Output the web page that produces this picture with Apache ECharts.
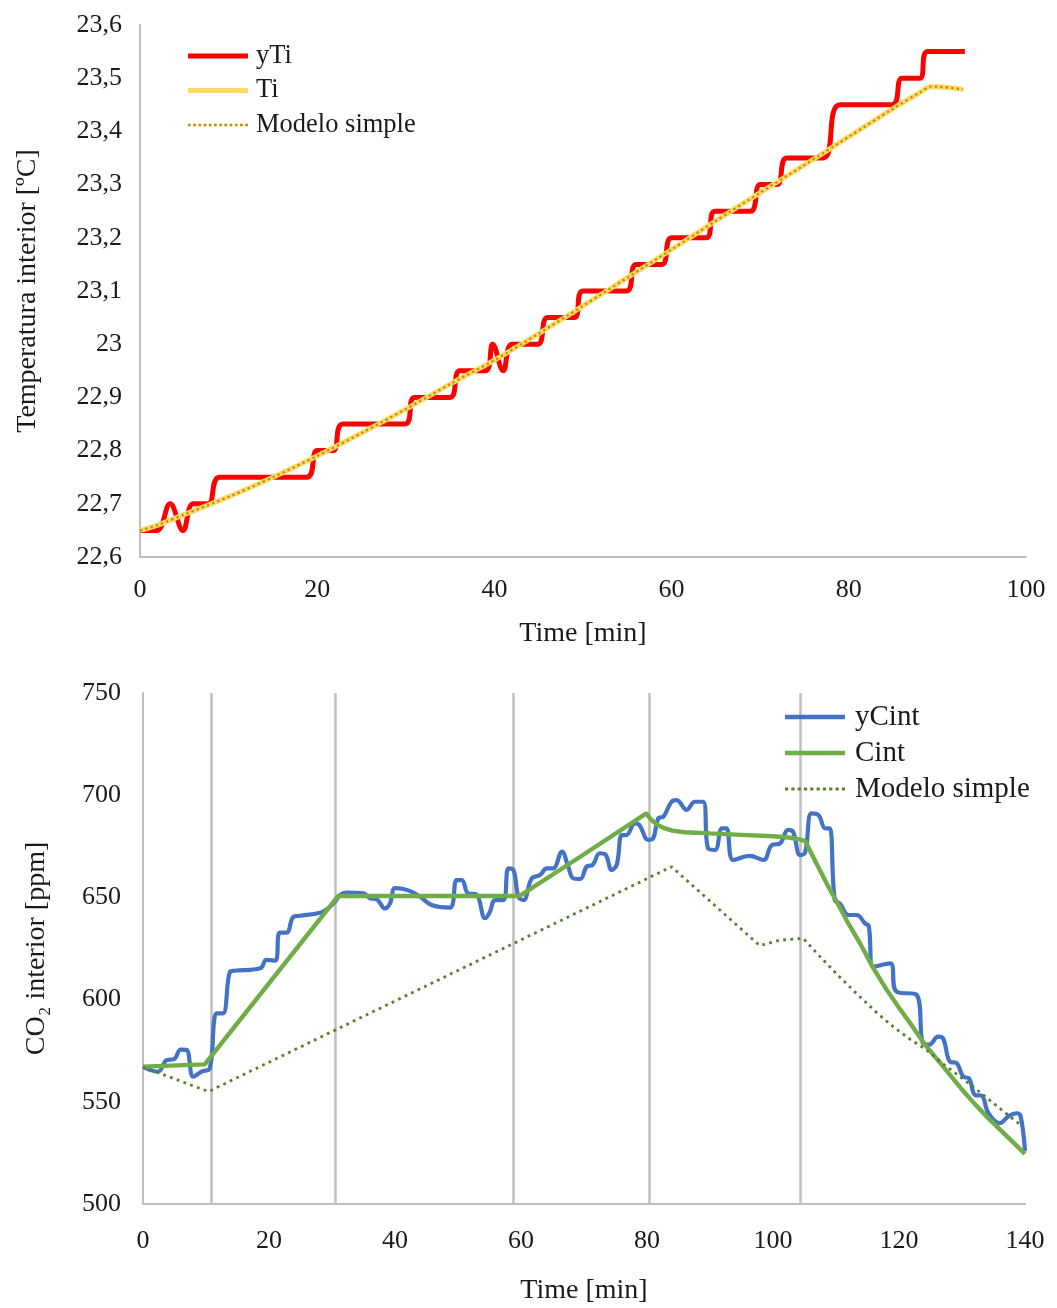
<!DOCTYPE html>
<html>
<head>
<meta charset="utf-8">
<script src="https://cdn.jsdelivr.net/npm/echarts@6/dist/echarts.min.js"></script>
<style>
  html, body { margin: 0; padding: 0; background: #ffffff; }
  #chart { width: 1057px; height: 1308px; }
</style>
</head>
<body>
<div id="chart"></div>
<script>
// ---- Interior temperature test (upper panel) ----
const yTiTime  = [0, 1.9, 3.4, 4.85, 6.0, 7.7, 9.0, 18.8, 20.0, 21.8, 22.9, 29.9, 31.0, 35.0, 36.1, 39.0, 39.8, 41.0, 42.0, 44.9,
                  46.0, 49.0, 50.0, 54.9, 56.0, 58.9, 60.0, 63.9, 64.9, 68.9, 70.0, 71.9, 73.0, 77.1, 79.0, 84.9, 86.0, 88.0, 88.9, 93.1];
const yTiValue = [22.65, 22.65, 22.70, 22.65, 22.70, 22.70, 22.75, 22.75, 22.80, 22.80, 22.85, 22.85, 22.90, 22.90, 22.95, 22.95, 23.00, 22.95, 23.00, 23.00,
                  23.05, 23.05, 23.10, 23.10, 23.15, 23.15, 23.20, 23.20, 23.25, 23.25, 23.30, 23.30, 23.35, 23.35, 23.45, 23.45, 23.50, 23.50, 23.55, 23.55];

const tiTime  = [0, 2, 5, 10, 15, 20, 25, 30, 35, 40, 45, 50, 55, 60, 65, 70, 75, 80, 85, 88.2, 89.2, 89.9, 92.9];
const tiValue = [22.650, 22.660, 22.680, 22.713, 22.750, 22.790, 22.833, 22.878, 22.925, 22.970, 23.020, 23.072, 23.125,
                 23.178, 23.232, 23.285, 23.337, 23.390, 23.443, 23.475, 23.484, 23.484, 23.479];

const modeloTTime  = [0, 2, 5, 10, 15, 20, 25, 30, 35, 40, 45, 50, 55, 60, 65, 70, 75, 80, 85, 88.2, 89.2, 89.9, 92.9];
const modeloTValue = [22.650, 22.660, 22.680, 22.713, 22.750, 22.790, 22.833, 22.878, 22.925, 22.970, 23.020, 23.072, 23.125,
                      23.178, 23.232, 23.285, 23.337, 23.390, 23.443, 23.475, 23.484, 23.484, 23.479];

const tempXLabels = ['0', '20', '40', '60', '80', '100'];
const tempYLabels = ['22,6', '22,7', '22,8', '22,9', '23', '23,1', '23,2', '23,3', '23,4', '23,5', '23,6'];

// ---- Interior CO2 test (lower panel) ----
const yCintTime  = [0, 1.2, 2.4, 3.8, 4.9, 6.0, 6.9, 8.0, 9.3, 10.6, 11.3, 11.7, 12.7, 13.8, 14.5, 18.6, 19.6, 21.0, 21.7, 22.8,
                    23.9, 24.9, 28.1, 29.2, 30.5, 31.3, 32.3, 35.0, 36.0, 37.1, 38.4, 39.2, 40.0, 41.3, 42.6, 44.0, 45.8, 48.7, 49.8, 50.6,
                    51.6, 52.9, 54.3, 55.0, 55.9, 57.2, 58.0, 58.8, 59.6, 60.4, 61.7, 63.0, 64.1, 65.1, 66.5, 67.5, 68.3, 69.4, 70.4, 71.4,
                    72.5, 73.4, 74.4, 75.2, 76.0, 76.7, 78.1, 78.8, 80.2, 81.0, 81.8, 82.6, 83.9, 84.7, 86.3, 87.6, 88.9, 89.7, 90.8, 91.9,
                    92.6, 93.7, 96.3, 98.5, 99.8, 101.1, 102.4, 103.2, 104.3, 105.1, 106.1, 107.2, 108.3, 109.0, 109.8, 110.6, 112.0, 113.3, 114.6, 115.2,
                    115.9, 118.6, 119.6, 122.8, 123.8, 124.8, 126.2, 127.0, 128.1, 129.1, 130.2, 131.1, 132.1, 133.1, 134.2, 136.0, 137.4, 138.7, 139.3, 140.0];
const yCintValue = [567.2, 565.5, 564.7, 570.5, 570.8, 575.5, 575.4, 562.3, 564.8, 566.4, 590.0, 593.3, 593.3, 613.6, 614.1, 615.3, 619.4, 619.1, 632.8, 632.8,
                    640.6, 641.0, 642.5, 644.2, 647.9, 651.2, 652.3, 652.0, 649.6, 649.1, 644.6, 647.0, 654.5, 654.1, 652.8, 650.3, 646.3, 645.0, 658.5, 658.5,
                    652.0, 651.5, 639.8, 642.5, 648.7, 648.7, 664.2, 663.4, 650.3, 648.7, 659.3, 660.9, 664.2, 664.2, 672.4, 665.0, 659.3, 659.0, 665.0, 666.0,
                    671.6, 671.0, 663.4, 666.0, 680.5, 680.5, 686.2, 685.4, 678.1, 679.0, 688.7, 689.5, 696.8, 697.6, 692.8, 696.8, 696.8, 674.0, 673.2, 683.8,
                    683.8, 668.3, 670.3, 668.3, 675.6, 676.4, 683.0, 682.0, 670.7, 672.0, 691.1, 690.3, 683.8, 683.8, 648.7, 647.0, 641.4, 641.4, 637.3, 636.0,
                    616.1, 617.7, 603.9, 602.3, 578.6, 578.0, 581.9, 581.0, 569.6, 569.0, 562.3, 561.5, 553.3, 553.0, 544.4, 539.5, 543.0, 544.4, 543.0, 526.0];

const cintTime  = [0, 9.8, 31.0, 59.8, 69.4, 79.9, 80.5, 81.5, 82.6, 84.0, 86.0, 90.0, 95.0, 100.0, 102.5, 104.0, 105.1,
                   107, 109, 110.1, 112, 114, 116, 118, 120, 122, 124, 126, 128, 130, 132, 134, 136, 138, 140];
const cintValue = [567.2, 568.3, 650.7, 650.7, 669.9, 691.1, 688.5, 685.8, 684.0, 682.7, 681.9, 681.3, 680.6, 679.9, 679.3, 678.5, 677.6,
                   666.0, 654.0, 648.0, 637.0, 626.5, 615.0, 605.0, 596.0, 587.5, 578.5, 571.0, 563.5, 556.0, 549.0, 542.5, 536.5, 530.5, 524.5];

const modeloCTime  = [0, 10.4, 83.9, 97.9, 101, 104.8, 107, 110.6, 113.8, 116.5, 119.1, 121.8, 124.4, 127, 129.7, 132.4, 135, 137.4, 139.7];
const modeloCValue = [567.0, 555.0, 665.0, 626.4, 629.0, 630.0, 622.5, 611.0, 601.4, 593.5, 586.7, 580.5, 575.3, 568.5, 562.3, 555.8, 549.3, 543.3, 537.8];

// minutes at which the operating condition changes (vertical reference lines)
const eventTimes = [10.9, 30.5, 58.7, 80.3, 104.4];

const co2XLabels = ['0', '20', '40', '60', '80', '100', '120', '140'];
const co2YLabels = ['500', '550', '600', '650', '700', '750'];

// ---- chart ----
const FONT = 'Liberation Serif';
const TEXT = '#1a1a1a';
const AXIS_GREY = '#BFBFBF';

function pairs(xs, ys) { return xs.map((x, i) => [x, ys[i]]); }

// row of square dots used as the legend swatch of the dotted series
function dotIcon(count, period) {
  let d = '';
  for (let i = 0; i < count; i++) {
    const x = (i * period).toFixed(2);
    d += 'M' + x + ' 0h1v1h-1z';
  }
  return 'path://' + d;
}

function valueAxis(gridIndex, min, max, interval, labels, margin, extra) {
  return Object.assign({
    type: 'value', gridIndex, min, max, interval,
    axisLine: { show: true, onZero: false, lineStyle: { color: AXIS_GREY, width: 2 } },
    axisTick: { show: false },
    splitLine: { show: false },
    axisLabel: {
      margin, fontFamily: FONT, fontSize: 26, color: TEXT,
      formatter: (v, i) => labels[i]
    },
    nameLocation: 'middle',
    nameTextStyle: { fontFamily: FONT, fontSize: 28, color: TEXT }
  }, extra);
}

const chart = echarts.init(document.getElementById('chart'), null, { renderer: 'canvas' });

chart.setOption({
  animation: false,
  backgroundColor: '#ffffff',
  grid: [
    { left: 140, top: 25, width: 886, height: 532 },
    { left: 143, top: 693, width: 882, height: 511 }
  ],
  xAxis: [
    valueAxis(0, 0, 100, 20, tempXLabels, 20, { name: 'Time [min]', nameGap: 63 }),
    valueAxis(1, 0, 140, 20, co2XLabels, 24, { name: 'Time [min]', nameGap: 73 })
  ],
  yAxis: [
    valueAxis(0, 22.6, 23.6, 0.1, tempYLabels, 18, { name: 'Temperatura interior [ºC]', nameGap: 98 }),
    valueAxis(1, 500, 750, 50, co2YLabels, 22, { name: 'CO₂ interior [ppm]', nameGap: 92 })
  ],
  legend: [
    {
      orient: 'vertical', left: 188, top: 42.5, padding: 0,
      itemWidth: 60, itemHeight: 5, itemGap: 7.5,
      textStyle: { fontFamily: FONT, fontSize: 26.5, color: TEXT, lineHeight: 27, padding: [0, 0, 0, 3] },
      data: [
        { name: 'yTi', icon: 'rect' },
        { name: 'Ti', icon: 'rect' },
        { name: 'Modelo simple', icon: dotIcon(12, 1.9) }
      ],
      selectedMode: false
    },
    {
      orient: 'vertical', left: 785, top: 702.5, padding: 0,
      itemWidth: 60, itemHeight: 4.5, itemGap: 7,
      textStyle: { fontFamily: FONT, fontSize: 29, color: TEXT, lineHeight: 29, padding: [0, 0, 0, 5] },
      data: [
        { name: 'yCint', icon: 'rect' },
        { name: 'Cint', icon: 'rect' },
        { name: 'Modelo simple ', icon: dotIcon(10, 2.0) }
      ],
      formatter: (name) => name.trim(),
      selectedMode: false
    }
  ],
  series: [
    {
      name: 'yTi', type: 'line', xAxisIndex: 0, yAxisIndex: 0, z: 3,
      data: pairs(yTiTime, yTiValue), symbol: 'none', smooth: 0.4,
      lineStyle: { color: '#FF0000', width: 5 }, itemStyle: { color: '#FF0000' }
    },
    {
      name: 'Ti', type: 'line', xAxisIndex: 0, yAxisIndex: 0, z: 4,
      data: pairs(tiTime, tiValue), symbol: 'none', smooth: 0.3,
      lineStyle: { color: '#FFD966', width: 5 }, itemStyle: { color: '#FFD966' }
    },
    {
      name: 'Modelo simple', type: 'line', xAxisIndex: 0, yAxisIndex: 0, z: 5,
      data: pairs(modeloTTime, modeloTValue), symbol: 'none', smooth: 0.3,
      lineStyle: { color: '#BF9000', width: 2.3, type: [2.3, 3.2] }, itemStyle: { color: '#BF9000' }
    },
    {
      name: 'events', type: 'line', xAxisIndex: 1, yAxisIndex: 1, z: 1,
      data: [], symbol: 'none', silent: true,
      markLine: {
        z: 1, silent: true, symbol: 'none', animation: false,
        label: { show: false },
        lineStyle: { color: AXIS_GREY, width: 2.5, type: 'solid' },
        emphasis: { disabled: true },
        data: eventTimes.map(t => ({ xAxis: t }))
      }
    },
    {
      name: 'yCint', type: 'line', xAxisIndex: 1, yAxisIndex: 1, z: 3,
      data: pairs(yCintTime, yCintValue), symbol: 'none', smooth: 0.4,
      lineStyle: { color: '#4472C4', width: 4.2 }, itemStyle: { color: '#4472C4' }
    },
    {
      name: 'Cint', type: 'line', xAxisIndex: 1, yAxisIndex: 1, z: 4,
      data: pairs(cintTime, cintValue), symbol: 'none', smooth: false,
      lineStyle: { color: '#70AD47', width: 4.4 }, itemStyle: { color: '#70AD47' }
    },
    {
      name: 'Modelo simple ', type: 'line', xAxisIndex: 1, yAxisIndex: 1, z: 5,
      data: pairs(modeloCTime, modeloCValue), symbol: 'none', smooth: false,
      lineStyle: { color: '#548235', width: 2.8, type: [2.8, 4.4] }, itemStyle: { color: '#548235' }
    }
  ]
});
</script>
</body>
</html>
